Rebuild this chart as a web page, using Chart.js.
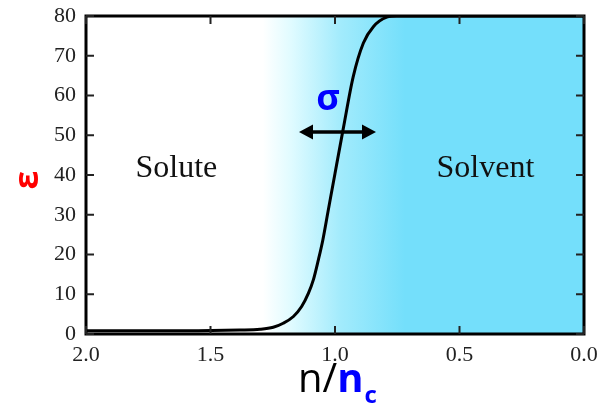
<!DOCTYPE html>
<html>
<head>
<meta charset="utf-8">
<script src="https://cdn.jsdelivr.net/npm/chart.js@4"></script>
<style>
  html, body { margin: 0; padding: 0; background: #fff; }
  #wrap { width: 600px; height: 405px; }
</style>
</head>
<body>
<div id="wrap"><canvas id="epsChart"></canvas></div>
<script>
const ratio = [2.0, 1.6, 1.382, 1.301, 1.248, 1.208, 1.167, 1.134, 1.107, 1.087, 1.067, 1.049, 1.028, 1.00, 0.967, 0.927, 0.886, 0.846, 0.792, 0.752, 0.5, 0.0];
const eps = [0.8, 0.8, 1.0, 1.2, 1.7, 2.7, 4.4, 6.9, 10.2, 13.6, 18.6, 23.6, 30.8, 40.4, 51.6, 64.7, 73.2, 77.3, 79.7, 80, 80, 80];
const xTicks = [2.0, 1.5, 1.0, 0.5, 0.0];
const yTicks = [0, 10, 20, 30, 40, 50, 60, 70, 80];
const regionLabels = ['Solute', 'Solvent'];

const points = ratio.map((r, i) => ({ x: r, y: eps[i] }));

const deco = {
    id: 'deco',
    beforeDraw(chart) {
        const { ctx, chartArea: a, scales } = chart;
        const x = scales.x;
        const g = ctx.createLinearGradient(x.getPixelForValue(1.29), 0, x.getPixelForValue(0.72), 0);
        g.addColorStop(0, '#ffffff');
        g.addColorStop(0.2, '#e0fbff');
        g.addColorStop(0.55, '#a2ebfc');
        g.addColorStop(1, '#74dffb');
        ctx.save();
        ctx.fillStyle = g;
        ctx.fillRect(a.left, a.top, a.right - a.left, a.bottom - a.top);
        ctx.restore();
    },
    afterDraw(chart) {
        const { ctx, chartArea: a, scales } = chart;
        const x = scales.x, y = scales.y;
        ctx.save();
        // frame
        ctx.strokeStyle = '#000';
        ctx.lineWidth = 3;
        ctx.strokeRect(a.left, a.top, a.right - a.left, a.bottom - a.top);
        // inward ticks
        ctx.lineWidth = 2;
        ctx.strokeStyle = '#222';
        ctx.beginPath();
        x.ticks.forEach(t => {
            const px = x.getPixelForValue(t.value);
            ctx.moveTo(px, a.bottom); ctx.lineTo(px, a.bottom - 8);
            ctx.moveTo(px, a.top); ctx.lineTo(px, a.top + 8);
        });
        y.ticks.forEach(t => {
            const py = y.getPixelForValue(t.value);
            ctx.moveTo(a.left, py); ctx.lineTo(a.left + 8, py);
            ctx.moveTo(a.right, py); ctx.lineTo(a.right - 8, py);
        });
        ctx.stroke();

        // region labels
        ctx.fillStyle = '#111';
        ctx.font = '32px "Liberation Serif"';
        ctx.textAlign = 'center';
        ctx.textBaseline = 'alphabetic';
        ctx.fillText(regionLabels[0], x.getPixelForValue(1.637), 177);
        ctx.fillText(regionLabels[1], x.getPixelForValue(0.396), 177);

        // sigma + double arrow
        ctx.fillStyle = '#0000ff';
        ctx.font = 'bold 36px "Open Sans"';
        ctx.textBaseline = 'middle';
        ctx.fillText('σ', 328, 100);
        const ay = 132, x1 = 299, x2 = 376;
        ctx.strokeStyle = '#000';
        ctx.lineWidth = 3.5;
        ctx.beginPath();
        ctx.moveTo(x1 + 10, ay); ctx.lineTo(x2 - 10, ay);
        ctx.stroke();
        ctx.fillStyle = '#000';
        ctx.beginPath();
        ctx.moveTo(x1, ay); ctx.lineTo(x1 + 14, ay - 7.5); ctx.lineTo(x1 + 14, ay + 7.5); ctx.closePath();
        ctx.moveTo(x2, ay); ctx.lineTo(x2 - 14, ay - 7.5); ctx.lineTo(x2 - 14, ay + 7.5); ctx.closePath();
        ctx.fill();

        // y title
        ctx.save();
        ctx.translate(28, 180);
        ctx.rotate(-Math.PI / 2);
        ctx.fillStyle = '#ff0000';
        ctx.font = 'bold 34px "Open Sans"';
        ctx.textAlign = 'center';
        ctx.textBaseline = 'middle';
        ctx.fillText('ε', 0, 0);
        ctx.restore();

        // x title n/nc
        ctx.textAlign = 'left';
        ctx.textBaseline = 'alphabetic';
        let tx = 298;
        ctx.font = '40px "Open Sans"';
        ctx.fillStyle = '#000';
        ctx.fillText('n/', tx, 392);
        tx += ctx.measureText('n/').width;
        ctx.font = 'bold 40px "Open Sans"';
        ctx.fillStyle = '#0000ff';
        ctx.fillText('n', tx, 392);
        tx += ctx.measureText('n').width + 1;
        ctx.font = 'bold 24px "Open Sans"';
        ctx.fillText('c', tx, 403);
        ctx.restore();
    }
};

new Chart('epsChart', {
    type: 'line',
    data: {
        datasets: [{
            data: points,
            borderColor: '#000',
            borderWidth: 3,
            pointRadius: 0,
            fill: false,
            cubicInterpolationMode: 'monotone'
        }]
    },
    options: {
        responsive: true,
        maintainAspectRatio: false,
        animation: false,
        layout: { padding: { left: 0, right: 16, top: 16, bottom: 0 } },
        plugins: { legend: { display: false }, tooltip: { enabled: false } },
        scales: {
            x: {
                type: 'linear',
                reverse: true,
                min: 0,
                max: 2,
                afterBuildTicks: s => { s.ticks = xTicks.map(v => ({ value: v })); },
                afterFit: s => { s.height = 71; s.paddingLeft = 0; s.paddingRight = 0; },
                grid: { display: false, drawTicks: false },
                border: { display: false },
                ticks: {
                    padding: 8,
                    color: '#222',
                    font: { family: '"Liberation Serif"', size: 22 },
                    callback: v => v.toFixed(1)
                }
            },
            y: {
                min: 0,
                max: 80,
                afterBuildTicks: s => { s.ticks = yTicks.map(v => ({ value: v })); },
                afterFit: s => { s.width = 86; s.paddingTop = 0; s.paddingBottom = 0; },
                grid: { display: false, drawTicks: false },
                border: { display: false },
                ticks: {
                    padding: 10,
                    color: '#222',
                    font: { family: '"Liberation Serif"', size: 22 }
                }
            }
        }
    },
    plugins: [deco]
});
</script>
</body>
</html>
